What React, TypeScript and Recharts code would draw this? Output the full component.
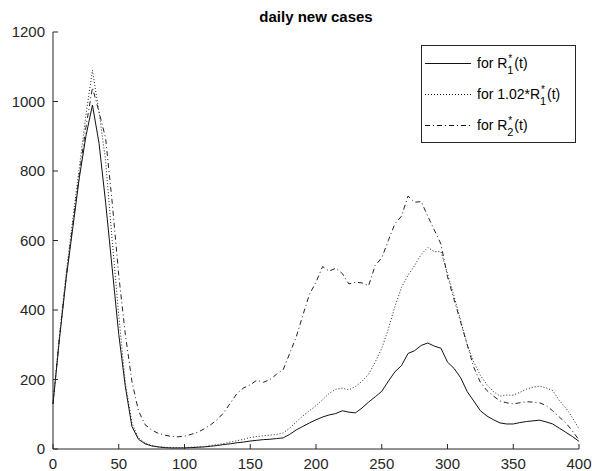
import React from 'react';
import { LineChart, Line, XAxis, YAxis } from 'recharts';

// day index (x axis)
const days = [
  0, 5, 10, 15, 20, 25, 30, 35, 40, 45, 50, 55, 60, 65, 70, 75, 80, 85, 90, 95,
  100, 105, 110, 115, 120, 125, 130, 135, 140, 145, 150, 155, 160, 165, 170, 175, 180, 185, 190, 195,
  200, 205, 210, 215, 220, 225, 230, 235, 240, 245, 250, 255, 260, 265, 270, 275, 280, 285, 290, 295,
  300, 305, 310, 315, 320, 325, 330, 335, 340, 345, 350, 355, 360, 365, 370, 375, 380, 385, 390, 395,
  400,
];

// daily new cases for R1*(t)
const casesR1 = [
  130, 320, 490, 635, 780, 900, 990, 880, 710, 520, 330, 180, 65, 28, 15, 9, 6, 4, 3, 3,
  3, 4, 5, 6, 8, 10, 13, 15, 18, 20, 23, 25, 27, 28, 30, 32, 42, 55, 65, 75,
  84, 92, 98, 102, 110, 106, 104, 118, 135, 150, 166, 195, 222, 240, 275, 283, 298, 305, 296, 290,
  250, 232, 205, 165, 138, 110, 95, 84, 75, 72, 72, 76, 79, 81, 83, 78, 72, 60, 48, 36,
  22,
];

// daily new cases for 1.02*R1*(t)
const casesR1x = [
  130, 330, 505, 660, 810, 960, 1090, 970, 830, 600, 385, 190, 75, 32, 18, 10, 6, 5, 4, 4,
  4, 5, 6, 7, 10, 13, 16, 20, 24, 28, 33, 36, 38, 40, 42, 46, 60, 78, 95, 110,
  125, 142, 160, 172, 175, 170, 180, 195, 215, 250, 290, 345, 410, 465, 500, 528, 560, 580, 568, 568,
  505, 440, 370, 300, 250, 212, 185, 165, 152, 155, 155, 163, 172, 178, 181, 176, 168, 140, 118, 90,
  58,
];

// daily new cases for R2*(t)
const casesR2 = [
  130, 325, 495, 645, 790, 925, 1040, 970, 895, 710, 500, 330, 195, 110, 70, 55, 45, 40, 36, 35,
  37, 42, 48, 58, 70, 85, 105, 133, 160, 176, 185, 198, 192, 200, 215, 228, 275, 323, 385, 445,
  480, 525, 512, 520, 505, 475, 480, 478, 470, 528, 550, 600, 648, 670, 728, 710, 712, 670, 630, 590,
  496, 430, 365, 300, 235, 192, 168, 152, 138, 133, 130, 133, 136, 135, 133, 125, 110, 92, 75, 52,
  26,
];

const xTicks = [0, 50, 100, 150, 200, 250, 300, 350, 400];
const yTicks = [0, 200, 400, 600, 800, 1000, 1200];

const legendPrefix = ['for R', 'for 1.02*R', 'for R'];
const legendSub = ['1', '1', '2'];
const legendDash = ['', '1 2', '5 3 1 3'];

const data = days.map((d, i) => ({
  day: d,
  r1: casesR1[i],
  r1x: casesR1x[i],
  r2: casesR2[i],
}));

const FONT = '"Liberation Sans", Arial, Helvetica, sans-serif';
const AXIS = '#262626';

const StarSub: React.FC<{ sub: string }> = ({ sub }) => (
  <span style={{ position: 'relative', display: 'inline-block', width: 7, height: 10 }}>
    <span style={{ position: 'absolute', left: 1, top: -7, fontSize: 10 }}>*</span>
    <span style={{ position: 'absolute', left: 0, top: 4, fontSize: 11 }}>{sub}</span>
  </span>
);

const App: React.FC = () => (
  <div style={{ position: 'absolute', left: 0, top: 0, width: 592, height: 471, background: '#fff', fontFamily: FONT }}>
    <div
      style={{
        position: 'absolute', left: 53, top: 9, width: 526, textAlign: 'center',
        fontWeight: 'bold', fontSize: 15, lineHeight: '16px', color: '#000',
      }}
    >
      daily new cases
    </div>
    <LineChart width={592} height={471} data={data} margin={{ top: 32, right: 13, bottom: 0, left: 0 }}>
      <XAxis
        dataKey="day"
        type="number"
        domain={[0, 400]}
        ticks={xTicks}
        interval={0}
        height={22}
        tickSize={-5}
        tickMargin={14}
        stroke={AXIS}
        tick={{ fill: AXIS, fontSize: 15, fontFamily: FONT }}
      />
      <YAxis
        type="number"
        domain={[0, 1200]}
        ticks={yTicks}
        interval={0}
        width={53}
        tickSize={-5}
        tickMargin={13}
        stroke={AXIS}
        tick={{ fill: AXIS, fontSize: 15, fontFamily: FONT }}
      />
      <Line type="linear" dataKey="r1" stroke="#111" strokeWidth={1} dot={false} isAnimationActive={false} />
      <Line type="linear" dataKey="r1x" stroke="#222" strokeWidth={1} strokeDasharray="1 2" dot={false} isAnimationActive={false} />
      <Line type="linear" dataKey="r2" stroke="#222" strokeWidth={1} strokeDasharray="5 3 1 3" dot={false} isAnimationActive={false} />
    </LineChart>
    <div
      style={{
        position: 'absolute', left: 421, top: 45, width: 153, height: 96,
        border: `1px solid ${AXIS}`, background: '#fff',
      }}
    >
      {legendPrefix.map((p, i) => (
        <div key={i} style={{ position: 'absolute', left: 0, top: 9 + i * 31, height: 16, width: 153 }}>
          <svg width={48} height={16} style={{ position: 'absolute', left: 2, top: 0 }}>
            <line x1={1} y1={8.5} x2={47} y2={8.5} stroke="#111" strokeWidth={1} strokeDasharray={legendDash[i] || undefined} />
          </svg>
          <span style={{ position: 'absolute', left: 55, top: 0, fontSize: 14, lineHeight: '16px', color: '#000', whiteSpace: 'nowrap' }}>
            {p}
            <StarSub sub={legendSub[i]} />
            (t)
          </span>
        </div>
      ))}
    </div>
  </div>
);

export default App;
